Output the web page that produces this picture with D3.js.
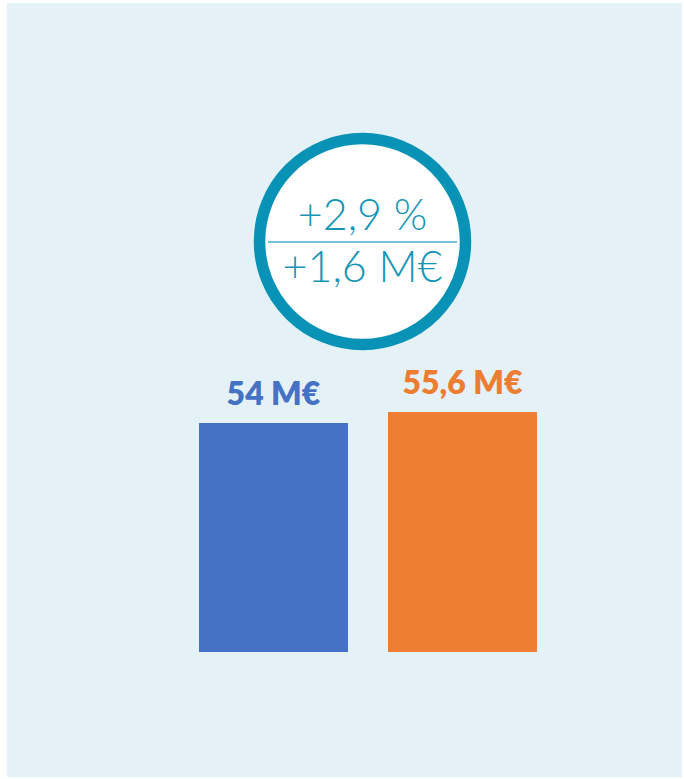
<!DOCTYPE html>
<html><head><meta charset="utf-8">
<script src="https://cdn.jsdelivr.net/npm/d3@7"></script>
<style>html,body{margin:0;padding:0;background:#fff;}</style>
</head><body>
<script>
const categories = ["Avant", "Après"];
const values = [54, 55.6];
const valueLabels = ["54 M€", "55,6 M€"];
const colors = ["#4472c4", "#ed7d31"];
const deltaPct = "+2,9 %";
const deltaAbs = "+1,6 M€";

const W = 684, H = 779;
const svg = d3.select("body").append("svg").attr("width", W).attr("height", H);
svg.append("rect").attr("x", 7).attr("y", 3).attr("width", 675).attr("height", 774).attr("fill", "#e4f2f7");

const x = d3.scaleBand().domain(categories).range([199, 537]).paddingInner(0.2116).paddingOuter(0);
const y = d3.scaleLinear().domain([20.7, 55.6]).range([652, 412]);

svg.selectAll("rect.bar").data(values).enter().append("rect")
  .attr("class", "bar")
  .attr("x", (d, i) => x(categories[i]))
  .attr("width", x.bandwidth())
  .attr("y", d => y(d))
  .attr("height", d => y.range()[0] - y(d))
  .attr("fill", (d, i) => colors[i]);

svg.selectAll("text.lbl").data(values).enter().append("text")
  .attr("class", "lbl")
  .attr("x", (d, i) => x(categories[i]) + x.bandwidth() / 2)
  .attr("y", d => y(d) - 18)
  .attr("text-anchor", "middle")
  .attr("font-family", "Lato, sans-serif")
  .attr("font-weight", 800)
  .attr("font-size", 32)
  .attr("fill", (d, i) => colors[i])
  .text((d, i) => valueLabels[i]);

const cx = 362.5, cy = 241.5;
svg.append("circle").attr("cx", cx).attr("cy", cy).attr("r", 103).attr("fill", "#fff")
  .attr("stroke", "#0893b6").attr("stroke-width", 11.5);
svg.append("line").attr("x1", 268).attr("x2", 457).attr("y1", 242).attr("y2", 242)
  .attr("stroke", "#45b0cc").attr("stroke-width", 1.5);
svg.append("text").attr("x", cx).attr("y", 230).attr("text-anchor", "middle")
  .attr("font-family", "Lato, sans-serif").attr("font-weight", 300).attr("font-size", 43)
  .attr("fill", "#1595b6").text(deltaPct);
svg.append("text").attr("x", cx).attr("y", 282).attr("text-anchor", "middle")
  .attr("font-family", "Lato, sans-serif").attr("font-weight", 300).attr("font-size", 43)
  .attr("fill", "#1595b6").text(deltaAbs);
</script>
</body></html>
